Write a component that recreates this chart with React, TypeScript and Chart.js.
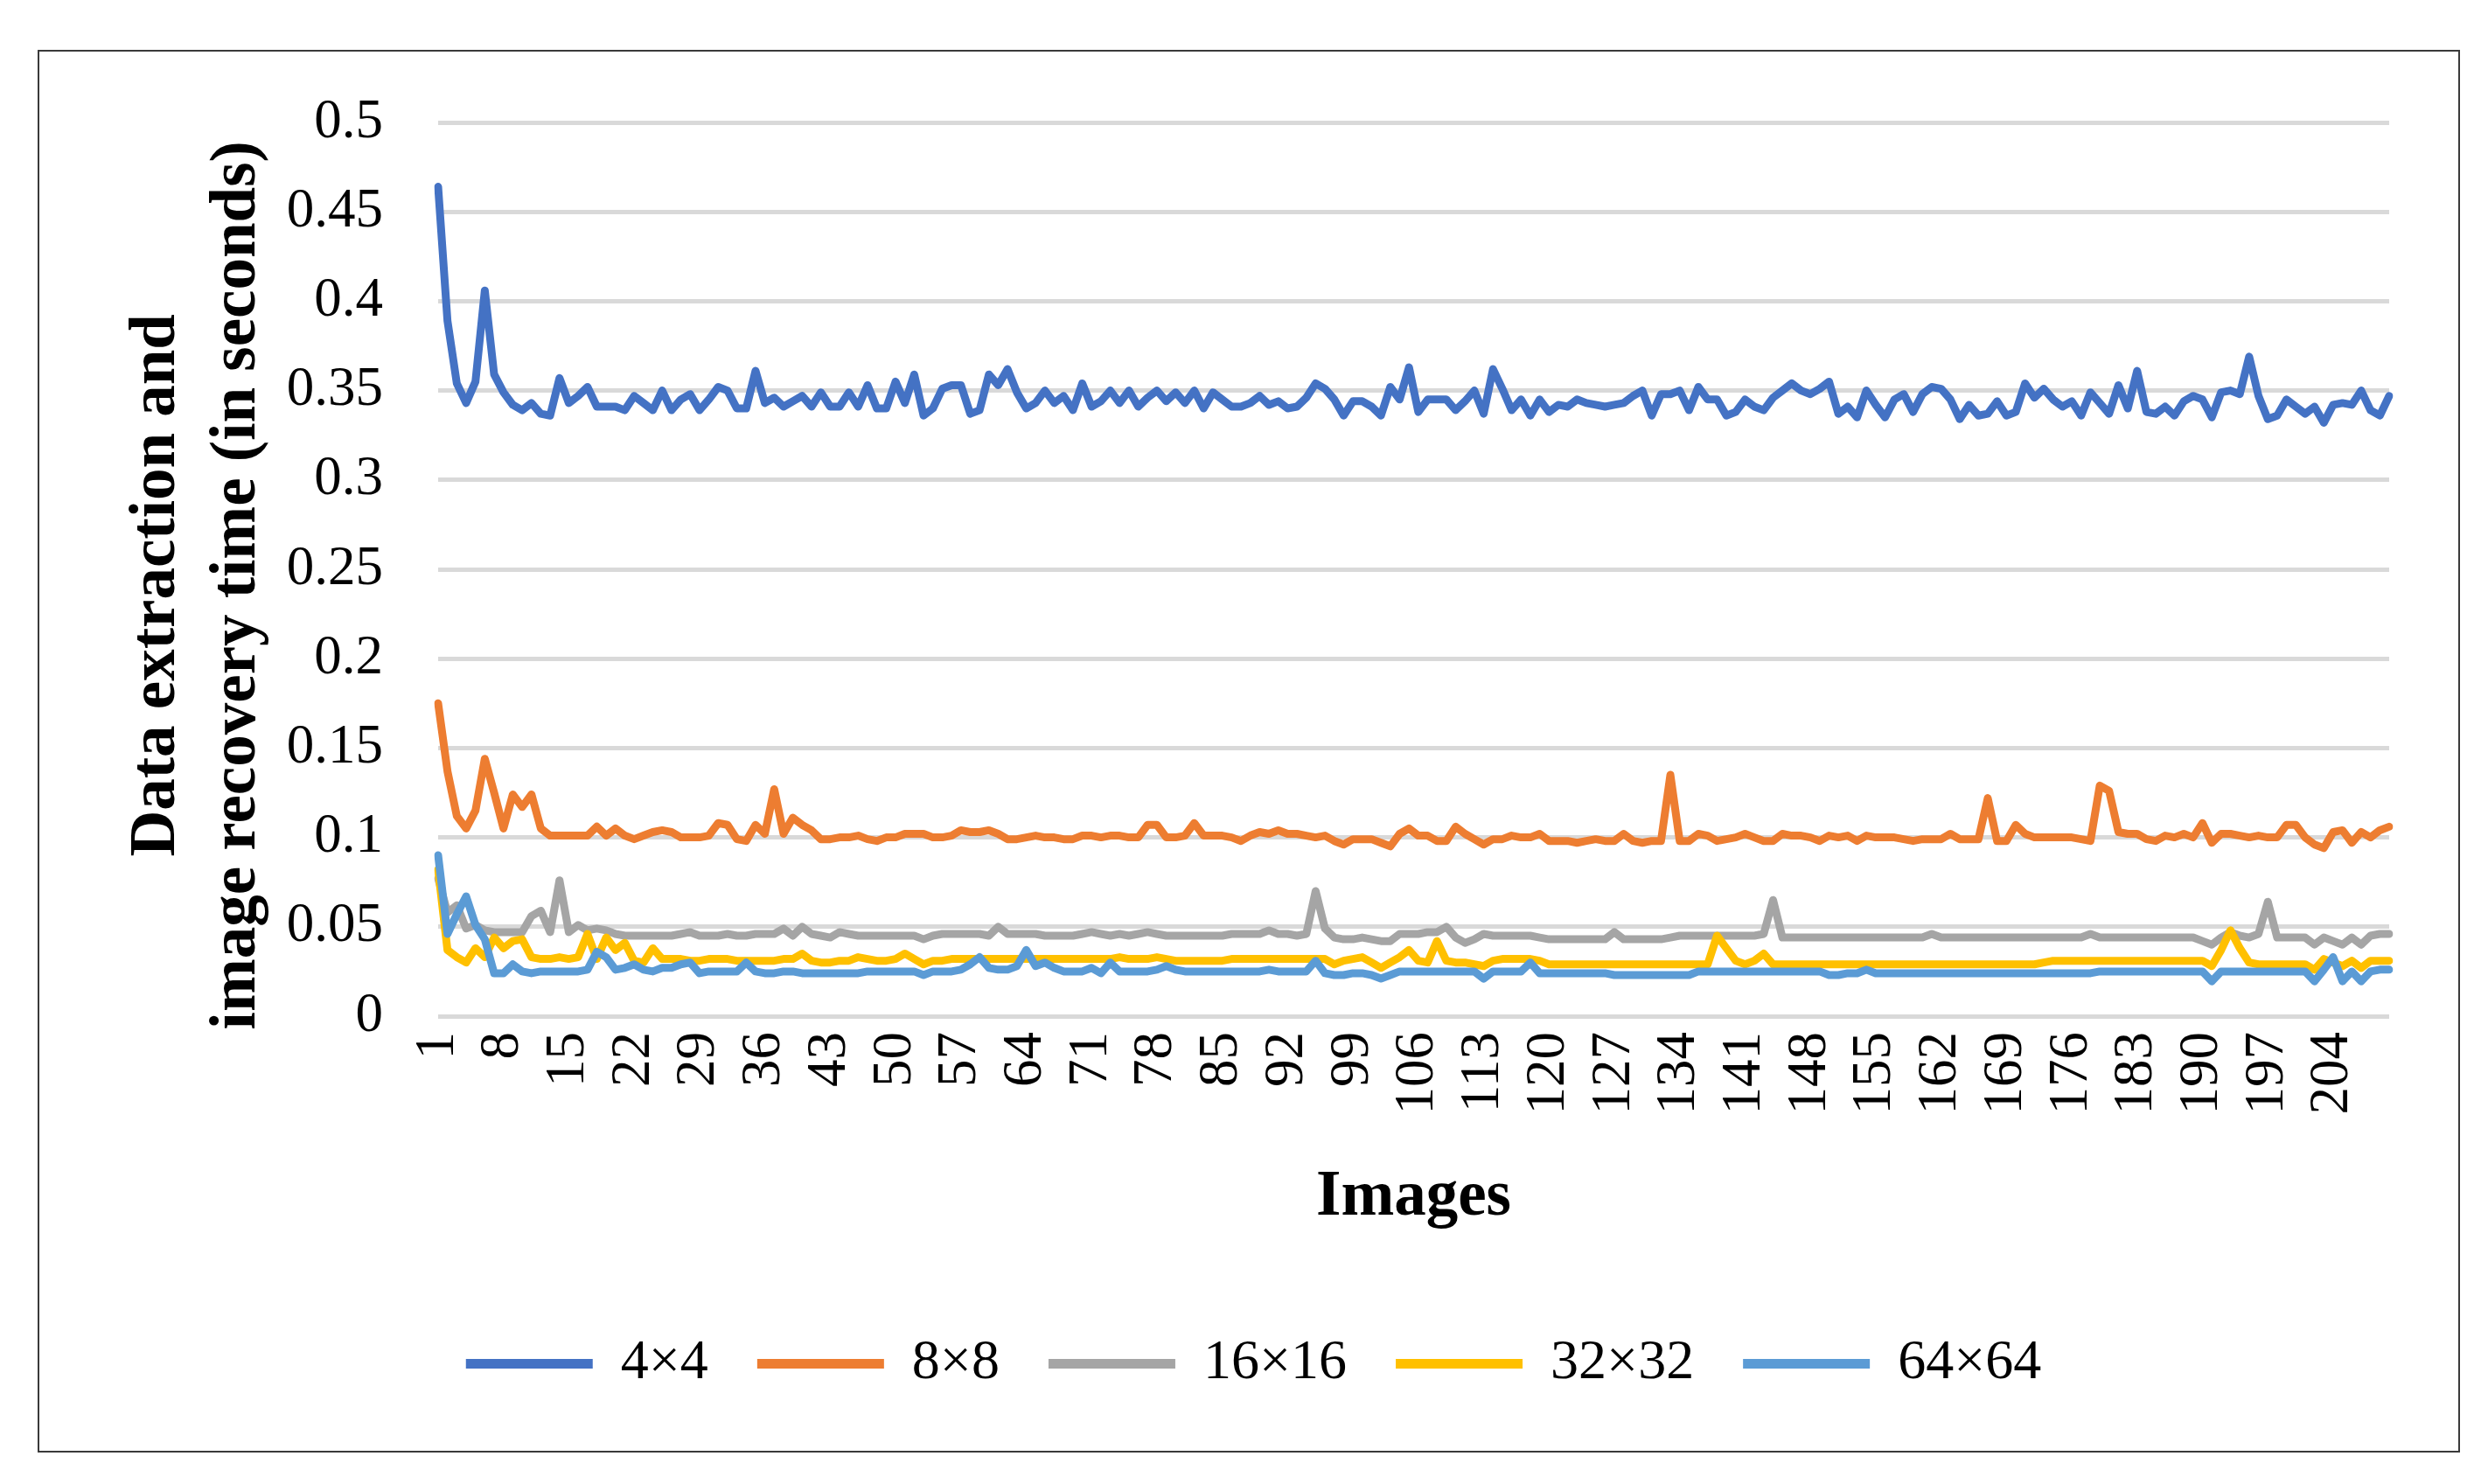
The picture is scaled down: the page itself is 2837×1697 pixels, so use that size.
import React, { useEffect, useRef } from 'react';
import { Chart, registerables } from 'chart.js';

Chart.register(...registerables);

const W = 2837;
const H = 1697;

const categories: string[] = Array.from({ length: 210 }, (_, i) => String(i + 1));

const seriesNames = ['4×4', '8×8', '16×16', '32×32', '64×64'];
const seriesColors = ['#4472C4', '#ED7D31', '#A5A5A5', '#FFC000', '#5B9BD5'];

const yTicks = { min: 0, max: 0.5, step: 0.05 };

const s4x4 = [
  .464, .389, .354, .343, .355, .406, .359, .349, .342, .339,
  .343, .337, .336, .357, .343, .347, .352, .341, .341, .341,
  .339, .347, .343, .339, .350, .339, .345, .348, .339, .345,
  .352, .350, .340, .340, .361, .343, .346, .341, .344, .347,
  .341, .349, .341, .341, .349, .341, .353, .340, .340, .355,
  .343, .359, .336, .340, .351, .353, .353, .337, .339, .359,
  .353, .362, .349, .340, .343, .350, .343, .347, .339, .354,
  .341, .344, .350, .343, .350, .341, .346, .350, .344, .349,
  .343, .350, .340, .349, .345, .341, .341, .343, .347, .342,
  .344, .340, .341, .346, .354, .351, .345, .336, .344, .344,
  .341, .336, .352, .345, .363, .338, .345, .345, .345, .339,
  .344, .350, .337, .362, .351, .339, .345, .336, .345, .338,
  .342, .341, .345, .343, .342, .341, .342, .343, .347, .350,
  .336, .348, .348, .350, .339, .352, .345, .345, .336, .338,
  .345, .341, .339, .346, .350, .354, .350, .348, .351, .355,
  .337, .341, .335, .350, .342, .335, .345, .348, .338, .348,
  .352, .351, .345, .334, .342, .336, .337, .344, .336, .338,
  .354, .346, .351, .345, .341, .344, .336, .349, .343, .337,
  .353, .340, .361, .338, .337, .341, .336, .344, .347, .345,
  .335, .349, .350, .348, .369, .347, .334, .336, .345, .341,
  .337, .341, .332, .342, .343, .342, .350, .339, .336, .347,
];

const s8x8 = [
  .175, .137, .112, .105, .115, .144, .125, .105, .124, .117,
  .124, .105, .101, .101, .101, .101, .101, .106, .101, .105,
  .101, .099, .101, .103, .104, .103, .100, .100, .100, .101,
  .108, .107, .099, .098, .107, .102, .127, .102, .111, .107,
  .104, .099, .099, .100, .100, .101, .099, .098, .100, .100,
  .102, .102, .102, .100, .100, .101, .104, .103, .103, .104,
  .102, .099, .099, .100, .101, .100, .100, .099, .099, .101,
  .101, .100, .101, .101, .100, .100, .107, .107, .100, .100,
  .101, .108, .101, .101, .101, .100, .098, .101, .103, .102,
  .104, .102, .102, .101, .100, .101, .098, .096, .099, .099,
  .099, .097, .095, .102, .105, .101, .101, .098, .098, .106,
  .102, .099, .096, .099, .099, .101, .100, .100, .102, .098,
  .098, .098, .097, .098, .099, .098, .098, .102, .098, .097,
  .098, .098, .135, .098, .098, .102, .101, .098, .099, .100,
  .102, .100, .098, .098, .102, .101, .101, .100, .098, .101,
  .100, .101, .098, .101, .100, .100, .100, .099, .098, .099,
  .099, .099, .102, .099, .099, .099, .122, .098, .098, .107,
  .102, .100, .100, .100, .100, .100, .099, .098, .129, .126,
  .103, .102, .102, .099, .098, .101, .100, .102, .100, .108,
  .097, .102, .102, .101, .100, .101, .100, .100, .107, .107,
  .100, .096, .094, .103, .104, .097, .103, .100, .104, .106,
];

const s16x16 = [
  .077, .058, .062, .049, .051, .048, .047, .047, .047, .047,
  .056, .059, .047, .076, .047, .051, .048, .049, .048, .046,
  .045, .045, .045, .045, .045, .045, .046, .047, .045, .045,
  .045, .046, .045, .045, .046, .046, .046, .049, .045, .050,
  .046, .045, .044, .047, .046, .045, .045, .045, .045, .045,
  .045, .045, .043, .045, .046, .046, .046, .046, .046, .045,
  .050, .046, .046, .046, .046, .045, .045, .045, .045, .046,
  .047, .046, .045, .046, .045, .046, .047, .046, .045, .045,
  .045, .045, .045, .045, .045, .046, .046, .046, .046, .048,
  .046, .046, .045, .046, .070, .049, .044, .043, .043, .044,
  .043, .042, .042, .046, .046, .046, .047, .047, .050, .044,
  .041, .043, .046, .045, .045, .045, .045, .045, .044, .043,
  .043, .043, .043, .043, .043, .043, .047, .043, .043, .043,
  .043, .043, .044, .045, .045, .045, .045, .045, .045, .045,
  .045, .045, .046, .065, .044, .044, .044, .044, .044, .044,
  .044, .044, .044, .044, .044, .044, .044, .044, .044, .044,
  .046, .044, .044, .044, .044, .044, .044, .044, .044, .044,
  .044, .044, .044, .044, .044, .044, .044, .046, .044, .044,
  .044, .044, .044, .044, .044, .044, .044, .044, .044, .042,
  .040, .044, .047, .045, .044, .046, .064, .044, .044, .044,
  .044, .040, .044, .042, .040, .044, .040, .045, .046, .046,
];

const s32x32 = [
  .082, .037, .033, .030, .038, .033, .044, .038, .042, .043,
  .033, .032, .032, .033, .032, .033, .046, .032, .044, .037,
  .041, .031, .030, .038, .032, .032, .032, .031, .031, .032,
  .032, .032, .031, .031, .031, .031, .031, .032, .032, .035,
  .031, .030, .030, .031, .031, .033, .032, .031, .031, .032,
  .035, .032, .029, .031, .031, .032, .032, .032, .032, .032,
  .032, .032, .032, .032, .032, .032, .032, .032, .032, .032,
  .032, .032, .032, .033, .032, .032, .032, .033, .032, .031,
  .031, .031, .031, .031, .031, .032, .032, .032, .032, .032,
  .032, .032, .032, .032, .032, .032, .029, .031, .032, .033,
  .030, .027, .030, .033, .037, .031, .030, .042, .031, .030,
  .030, .029, .028, .031, .032, .032, .032, .032, .031, .029,
  .029, .029, .029, .029, .029, .029, .029, .029, .029, .029,
  .029, .029, .029, .029, .029, .029, .029, .045, .038, .031,
  .029, .031, .035, .029, .029, .029, .029, .029, .029, .029,
  .029, .029, .029, .029, .029, .029, .029, .029, .029, .029,
  .029, .029, .029, .029, .029, .029, .029, .029, .029, .029,
  .029, .029, .030, .031, .031, .031, .031, .031, .031, .031,
  .031, .031, .031, .031, .031, .031, .031, .031, .031, .031,
  .028, .037, .048, .038, .030, .029, .029, .029, .029, .029,
  .029, .026, .032, .030, .028, .031, .027, .031, .031, .031,
];

const s64x64 = [
  .090, .046, .057, .067, .051, .043, .024, .024, .029, .025,
  .024, .025, .025, .025, .025, .025, .026, .036, .033, .026,
  .027, .029, .026, .025, .027, .027, .029, .030, .024, .025,
  .025, .025, .025, .030, .025, .024, .024, .025, .025, .024,
  .024, .024, .024, .024, .024, .024, .025, .025, .025, .025,
  .025, .025, .023, .025, .025, .025, .026, .029, .033, .027,
  .026, .026, .028, .037, .028, .030, .027, .025, .025, .025,
  .027, .024, .030, .025, .025, .025, .025, .026, .028, .026,
  .025, .025, .025, .025, .025, .025, .025, .025, .025, .026,
  .025, .025, .025, .025, .031, .024, .023, .023, .024, .024,
  .023, .021, .023, .025, .025, .025, .025, .025, .025, .025,
  .025, .025, .021, .025, .025, .025, .025, .030, .024, .024,
  .024, .024, .024, .024, .024, .024, .023, .023, .023, .023,
  .023, .023, .023, .023, .023, .025, .025, .025, .025, .025,
  .025, .025, .025, .025, .025, .025, .025, .025, .025, .023,
  .023, .024, .024, .026, .024, .024, .024, .024, .024, .024,
  .024, .024, .024, .024, .024, .024, .024, .024, .024, .024,
  .024, .024, .024, .024, .024, .024, .024, .024, .025, .025,
  .025, .025, .025, .025, .025, .025, .025, .025, .025, .025,
  .0195, .025, .025, .025, .025, .025, .025, .025, .025, .025,
  .025, .0195, .026, .033, .0195, .025, .0195, .025, .026, .026,
];

const seriesData = [s4x4, s8x8, s16x16, s32x32, s64x64];

const yTitleLines = ['Data extraction and  ', 'image recovery time (in seconds)  '];
const xTitle = 'Images';

const FONT = 'Liberation Serif';

export default function App() {
  const ref = useRef<HTMLCanvasElement | null>(null);

  useEffect(() => {
    document.body.style.margin = '0';
    const canvas = ref.current;
    if (!canvas) return;
    Chart.defaults.color = '#000';
    const chart = new Chart(canvas, {
      type: 'line',
      data: {
        labels: categories,
        datasets: seriesNames.map((name, i) => ({
          label: name,
          data: seriesData[i],
          borderColor: seriesColors[i],
          backgroundColor: seriesColors[i],
          borderWidth: 9,
          pointRadius: 0,
          pointHoverRadius: 0,
          tension: 0,
          fill: false,
          order: seriesNames.length - i,
          borderJoinStyle: 'round',
          borderCapStyle: 'round',
        })),
      },
      options: {
        responsive: false,
        animation: false,
        devicePixelRatio: 1,
        events: [],
        layout: { padding: { left: 135, right: 105, top: 140, bottom: 95.5 } },
        plugins: {
          tooltip: { enabled: false },
          legend: {
            position: 'bottom',
            labels: {
              boxWidth: 145,
              boxHeight: 11,
              padding: 56,
              color: '#000',
              font: { family: FONT, size: 64 },
              sort: (a: any, b: any) => a.datasetIndex - b.datasetIndex,
              generateLabels: (c: any) => {
                const items = (Chart.defaults.plugins.legend.labels as any).generateLabels(c);
                return items.map((it: any) => ({
                  ...it,
                  lineWidth: 0,
                  fillStyle: seriesColors[it.datasetIndex],
                  strokeStyle: seriesColors[it.datasetIndex],
                }));
              },
            },
          },
        },
        scales: {
          x: {
            type: 'category',
            grid: { display: false },
            border: { display: false },
            ticks: {
              autoSkip: false,
              minRotation: 90,
              maxRotation: 90,
              padding: 10,
              color: '#000',
              font: { family: FONT, size: 63 },
              callback: (_v: any, idx: number) => (idx % 7 === 0 ? categories[idx] : ''),
            },
            title: {
              display: true,
              text: xTitle,
              color: '#000',
              font: { family: FONT, size: 73, weight: 'bold', lineHeight: 1.25 },
              padding: { top: 0, bottom: 56 },
            },
            afterFit: (s: any) => {
              s.height = 309.5;
            },
          },
          y: {
            min: yTicks.min,
            max: yTicks.max,
            grid: { color: '#d9d9d9', lineWidth: 5, drawTicks: false },
            border: { display: false },
            ticks: {
              stepSize: yTicks.step,
              padding: 63,
              color: '#000',
              font: { family: FONT, size: 63 },
              callback: (v: any) => String(+(+v).toFixed(2)),
            },
            title: {
              display: true,
              text: yTitleLines,
              color: '#000',
              font: { family: FONT, size: 73, weight: 'bold', lineHeight: 1.25 },
              padding: { top: 0, bottom: 0 },
            },
            afterFit: (s: any) => {
              s.width = 501 - 135;
            },
          },
        },
      } as any,
    });
    return () => chart.destroy();
  }, []);

  return (
    <div style={{ position: 'relative', width: W, height: H, background: '#fff', overflow: 'hidden' }}>
      <canvas ref={ref} width={W} height={H} style={{ position: 'absolute', left: 0, top: 0 }} />
      <div
        style={{
          position: 'absolute',
          left: 43,
          top: 57,
          width: 2766,
          height: 1600,
          border: '2px solid #3a3a3a',
          pointerEvents: 'none',
        }}
      />
    </div>
  );
}
